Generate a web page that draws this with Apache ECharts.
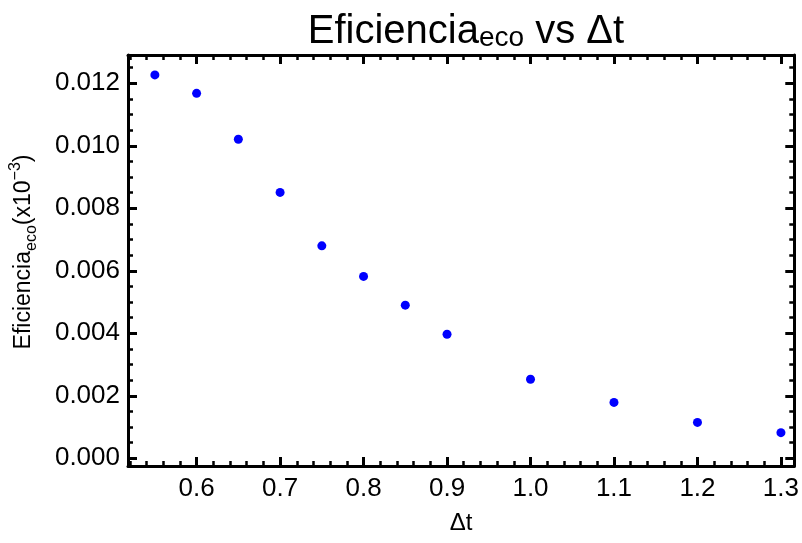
<!DOCTYPE html>
<html>
<head>
<meta charset="utf-8">
<script src="https://cdn.jsdelivr.net/npm/echarts@6/dist/echarts.min.js"></script>
<style>html,body{margin:0;padding:0;background:#fff}#c{width:802px;height:543px}</style>
</head>
<body>
<div id="c"></div>
<script>
const dtValues = [0.55, 0.6, 0.65, 0.7, 0.75, 0.8, 0.85, 0.9, 1.0, 1.1, 1.2, 1.3];
const efficiency = [0.01227, 0.01168, 0.01021, 0.00851, 0.00680, 0.00582, 0.00490, 0.00397, 0.00253, 0.00179, 0.00115, 0.00082];
const xTicks = [0.6, 0.7, 0.8, 0.9, 1.0, 1.1, 1.2, 1.3];
const yTicks = [0.000, 0.002, 0.004, 0.006, 0.008, 0.010, 0.012];

const XMIN = 0.5178, XMAX = 1.316;
const YMIN = -0.000246, YMAX = 0.012906;

function minors(step, lo, hi, majors) {
  const out = [];
  for (let i = Math.ceil(lo / step - 1e-9); i * step <= hi + 1e-12; i++) {
    const v = Math.round(i * step * 1e6) / 1e6;
    if (!majors.some(m => Math.abs(m - v) < 1e-9)) out.push(v);
  }
  return out;
}
const xMinor = minors(0.02, XMIN, XMAX, xTicks);
const yMinor = minors(0.0005, YMIN, YMAX, yTicks);

const FONT = 'Liberation Sans';
const black = '#000';

function xAx(pos, ticks, len, w, showLine, showLabel) {
  return {
    type: 'value', position: pos, min: XMIN, max: XMAX,
    axisLine: { show: showLine, onZero: false, lineStyle: { color: black, width: 3 } },
    axisTick: { show: true, inside: true, length: len, customValues: ticks, lineStyle: { color: black, width: w } },
    axisLabel: showLabel ? { show: true, customValues: ticks, formatter: v => v.toFixed(1), color: black, fontFamily: FONT, fontSize: 26, margin: 10 } : { show: false },
    splitLine: { show: false }
  };
}
function yAx(pos, ticks, len, w, showLine, showLabel) {
  return {
    type: 'value', position: pos, min: YMIN, max: YMAX,
    axisLine: { show: showLine, onZero: false, lineStyle: { color: black, width: 3 } },
    axisTick: { show: true, inside: true, length: len, customValues: ticks, lineStyle: { color: black, width: w } },
    axisLabel: showLabel ? { show: true, customValues: ticks, formatter: v => v.toFixed(3), color: black, fontFamily: FONT, fontSize: 26, margin: 8 } : { show: false },
    splitLine: { show: false }
  };
}

const chart = echarts.init(document.getElementById('c'), null, { renderer: 'canvas' });
chart.setOption({
  backgroundColor: '#fff',
  animation: false,
  title: {
    text: '{a|Eficiencia}{b|eco}{a| vs Δt}',
    left: 461, top: -1, textAlign: 'center',
    textStyle: {
      rich: {
        a: { fontFamily: FONT, fontSize: 40, fontWeight: 'normal', color: black, verticalAlign: 'bottom', lineHeight: 48 },
        b: { fontFamily: FONT, fontSize: 28, fontWeight: 'normal', color: black, verticalAlign: 'bottom', lineHeight: 38 }
      }
    }
  },
  grid: { left: 128, right: 7, top: 55, bottom: 77 },
  xAxis: [
    xAx('bottom', xTicks, 9, 3, true, true),
    xAx('bottom', xMinor, 5, 2.5, false, false),
    xAx('top', xTicks, 9, 3, true, false),
    xAx('top', xMinor, 5, 2.5, false, false)
  ],
  yAxis: [
    yAx('left', yTicks, 9, 3, true, true),
    yAx('left', yMinor, 5, 2.5, false, false),
    yAx('right', yTicks, 9, 3, true, false),
    yAx('right', yMinor, 5, 2.5, false, false)
  ],
  graphic: [
    {
      type: 'text', x: 461, y: 523,
      style: { text: 'Δt', font: '24px "' + FONT + '"', fill: black, align: 'center', verticalAlign: 'middle' }
    },
    {
      type: 'text', x: 24, y: 252, rotation: Math.PI / 2,
      style: {
        text: '{a|Eficiencia}{b|eco}{a|(x10}{c|−3}{a|)}',
        align: 'center', verticalAlign: 'middle',
        rich: {
          a: { fontFamily: FONT, fontSize: 23, fill: black, verticalAlign: 'middle', lineHeight: 30 },
          b: { fontFamily: FONT, fontSize: 16, fill: black, verticalAlign: 'bottom', lineHeight: 24 },
          c: { fontFamily: FONT, fontSize: 16, fill: black, verticalAlign: 'top', lineHeight: 32 }
        }
      }
    }
  ],
  series: [{
    type: 'scatter',
    xAxisIndex: 0, yAxisIndex: 0,
    symbol: 'circle', symbolSize: 9,
    itemStyle: { color: '#0000ff', opacity: 1 },
    data: dtValues.map((x, i) => [x, efficiency[i]])
  }]
});
</script>
</body>
</html>
